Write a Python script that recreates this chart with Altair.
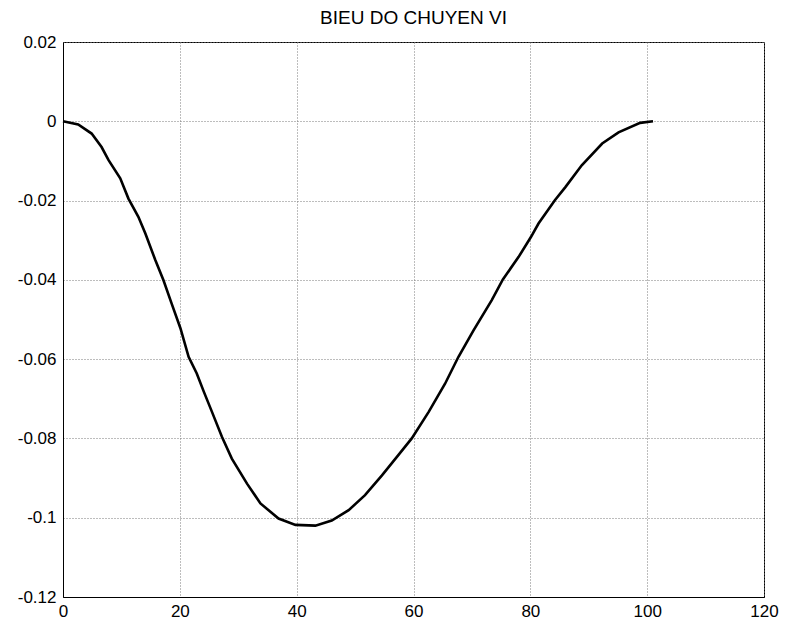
import altair as alt
import pandas as pd

title_text = "BIEU DO CHUYEN VI"

x_vals = [0, 2.6, 4.9, 6.6, 7.8, 9.8, 11.2, 12.9, 14.1, 15.8, 17.2, 18.6, 20.1, 21.5,
          22.9, 24.1, 25.5, 27.2, 28.9, 31.5, 33.8, 36.9, 39.8, 43.2, 46.0, 48.9, 51.7,
          54.6, 57.4, 59.7, 62.6, 65.4, 67.7, 70.3, 73.4, 75.3, 78.0, 80.1, 81.4, 84.2,
          86.0, 88.8, 92.3, 95.1, 98.8, 101.0]
y_vals = [0, -0.0008, -0.0031, -0.0065, -0.0098, -0.0144, -0.0195, -0.0241, -0.0283,
          -0.0350, -0.0401, -0.0460, -0.0522, -0.0594, -0.0636, -0.0682, -0.0733,
          -0.0796, -0.0851, -0.0914, -0.0964, -0.1002, -0.1018, -0.1020, -0.1007,
          -0.0981, -0.0943, -0.0893, -0.0842, -0.0800, -0.0733, -0.0662, -0.0594,
          -0.0527, -0.0451, -0.0399, -0.0342, -0.0292, -0.0258, -0.0199, -0.0166,
          -0.0111, -0.0056, -0.0028, -0.0004, 0]

x_ticks = [0, 20, 40, 60, 80, 100, 120]
y_ticks = [0.02, 0, -0.02, -0.04, -0.06, -0.08, -0.1, -0.12]

df = pd.DataFrame({"x": x_vals, "y": y_vals})

FONT = "Liberation Sans"

line = alt.Chart(df).mark_line(color="black", strokeWidth=2.6).encode(
    x=alt.X("x:Q",
            scale=alt.Scale(domain=[0, 120], nice=False, zero=False),
            axis=alt.Axis(values=x_ticks, title=None, grid=True, ticks=False,
                          labelPadding=6, labelFontSize=17, labelFont=FONT,
                          labelColor="black", domainColor="black",
                          gridColor="#7a7a7a", gridDash=[1, 2], gridWidth=1,
                          labelFlush=False)),
    y=alt.Y("y:Q",
            scale=alt.Scale(domain=[-0.12, 0.02], nice=False, zero=False),
            axis=alt.Axis(values=y_ticks, title=None, grid=True, ticks=False,
                          labelPadding=7, labelFontSize=17, labelFont=FONT,
                          labelColor="black", domainColor="black",
                          gridColor="#7a7a7a", gridDash=[1, 2], gridWidth=1,
                          labelExpr="'' + datum.value", labelFlush=False)),
    order=alt.Order("x:Q"),
)

chart = line.properties(
    width=701,
    height=555,
    title=alt.TitleParams(title_text, fontSize=19, font=FONT, fontWeight="normal",
                          color="black", offset=5, anchor="middle"),
    autosize=alt.AutoSizeParams(type="none"),
    padding={"left": 55, "top": 34, "right": 15, "bottom": 23},
).configure_view(
    stroke="black", strokeWidth=1
)

chart.save("out.html", embed_options={"renderer": "svg", "actions": False})
